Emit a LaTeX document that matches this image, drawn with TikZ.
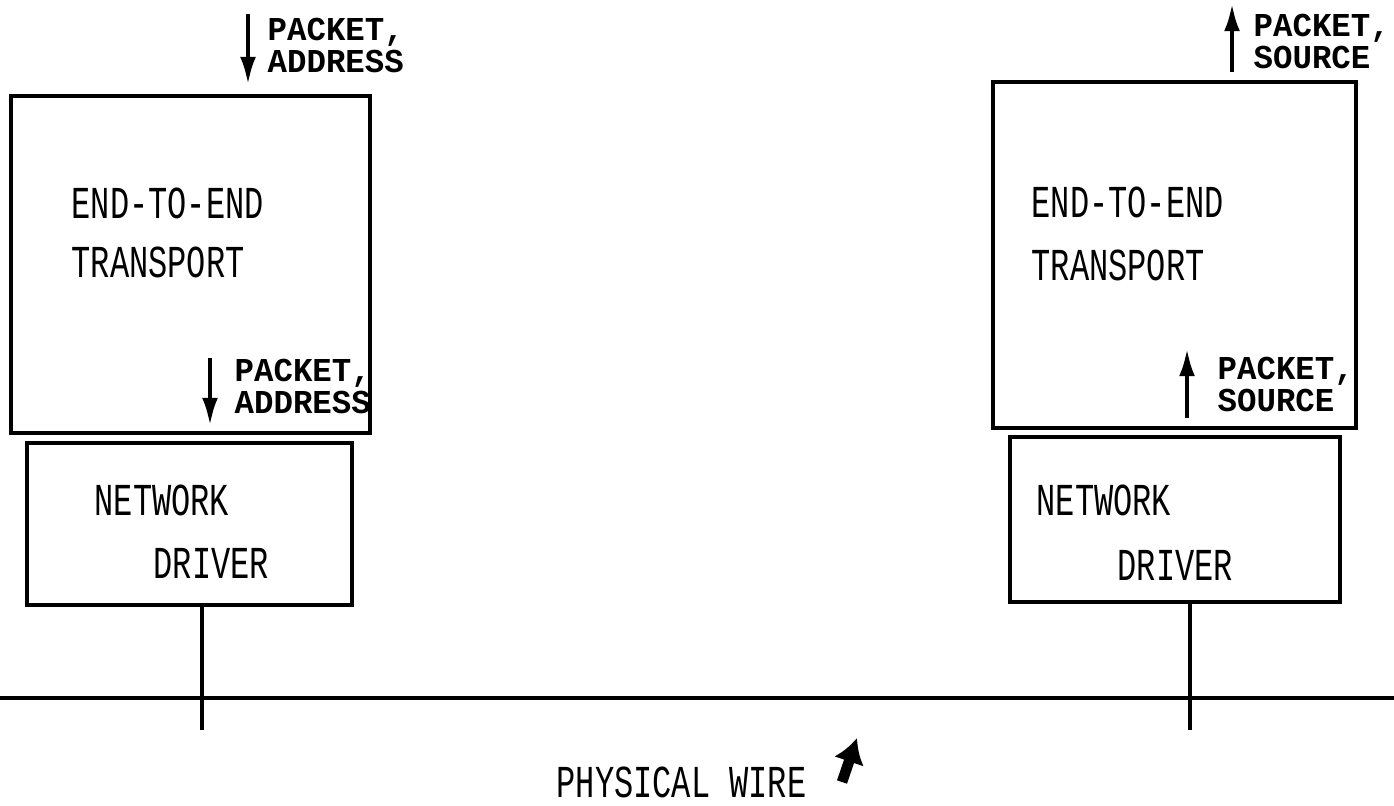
\documentclass[tikz,border=0pt]{standalone}
\usepackage{fontspec}
\usetikzlibrary{arrows.meta,fit}
\newfontfamily\bigmono[FakeStretch=0.70]{Liberation Mono}
\newfontfamily\smallmono[FakeStretch=0.97]{Liberation Mono Bold}
\begin{document}
\begin{tikzpicture}[x=0.01cm,y=-0.01cm,
  boxst/.style={draw,line width=1.1pt,inner sep=0pt},
  bigtxt/.style={anchor=base west,inner sep=0pt,font=\bigmono\fontsize{13}{13}\selectfont},
  smalltxt/.style={anchor=base west,inner sep=0pt,align=left,font=\smallmono\fontsize{9.5}{8.9}\selectfont},
  flow/.style={line width=1.3pt,-{Latex[length=8pt,width=4.5pt]}},
  wire/.style={line width=1pt}]
\useasboundingbox (0,0) rectangle (1394,805);
% left side
\coordinate (lt1) at (11,96); \coordinate (lt2) at (370,433);
\node[boxst,fit=(lt1)(lt2)] (ltrans) {};
\coordinate (ln1) at (27,443); \coordinate (ln2) at (352,605);
\node[boxst,fit=(ln1)(ln2)] (lnet) {};
\node[bigtxt] (lt_a) at (71,218) {END-TO-END};
\node[bigtxt] (lt_b) at (71,277) {TRANSPORT};
\node[bigtxt] (ln_a) at (94,515) {NETWORK};
\node[bigtxt] (ln_b) at (153,578) {DRIVER};
% right side
\coordinate (rt1) at (993,82); \coordinate (rt2) at (1356,428);
\node[boxst,fit=(rt1)(rt2)] (rtrans) {};
\coordinate (rn1) at (1010,437); \coordinate (rn2) at (1340,602);
\node[boxst,fit=(rn1)(rn2)] (rnet) {};
\node[bigtxt] (rt_a) at (1031,217) {END-TO-END};
\node[bigtxt] (rt_b) at (1031,280) {TRANSPORT};
\node[bigtxt] (rn_a) at (1036,515) {NETWORK};
\node[bigtxt] (rn_b) at (1117,580) {DRIVER};
% wire
\coordinate (w1) at (0,698); \coordinate (w2) at (1394,698);
\draw[wire] (w1) -- (w2);
\coordinate (lw) at (202,730); \coordinate (rw) at (1190,730);
\draw[wire] (lnet.south -| lw) -- (lw);
\draw[wire] (rnet.south -| rw) -- (rw);
% arrows and labels
\coordinate (a1s) at (248,14); \coordinate (a1e) at (248,85);
\draw[flow] (a1s) -- (a1e);
\node[smalltxt] (l1) at (267,72) {PACKET,\\ADDRESS};
\coordinate (a2s) at (210,358); \coordinate (a2e) at (210,426);
\draw[flow] (a2s) -- (a2e);
\node[smalltxt] (l2) at (234,413) {PACKET,\\ADDRESS};
\coordinate (a3s) at (1232,72); \coordinate (a3e) at (1232,3);
\draw[flow] (a3s) -- (a3e);
\node[smalltxt] (l3) at (1253,68) {PACKET,\\SOURCE};
\coordinate (a4s) at (1187,418); \coordinate (a4e) at (1187,348);
\draw[flow] (a4s) -- (a4e);
\node[smalltxt] (l4) at (1217,411) {PACKET,\\SOURCE};
% physical wire label
\node[bigtxt] (pw) at (556,797) {PHYSICAL WIRE};
\coordinate (p1) at (842,782); \coordinate (p2) at (857,738);
\draw[line width=3pt,-{Latex[length=7pt,width=9pt]}] (p1) -- (p2);
\end{tikzpicture}
\end{document}
